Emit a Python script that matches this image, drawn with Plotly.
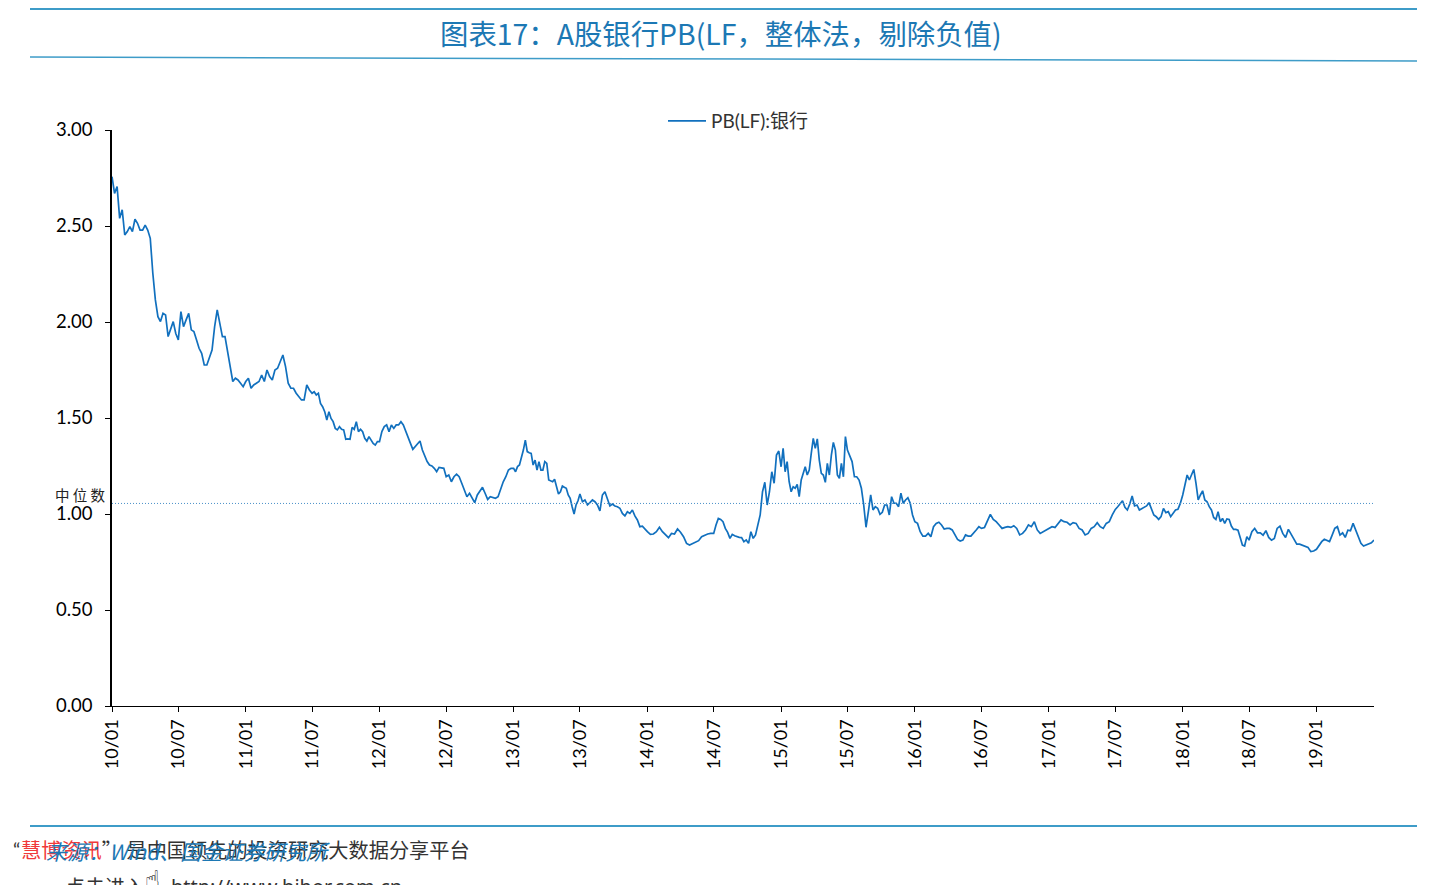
import pandas as pd
import plotly.graph_objects as go

TITLE = "图表17：A股银行PB(LF，整体法，剔除负值)"
SERIES_NAME = "PB(LF):银行"
MEDIAN = 1.055
Y_TICKS = [0.0, 0.5, 1.0, 1.5, 2.0, 2.5, 3.0]

h_starts = ["2010-01-01","2010-07-01","2011-01-01","2011-07-01","2012-01-01","2012-07-01","2013-01-01",
            "2013-07-01","2014-01-01","2014-07-01","2015-01-01","2015-07-01","2016-01-01","2016-07-01",
            "2017-01-01","2017-07-01","2018-01-01","2018-07-01","2019-01-01","2019-06-07"]

v10a = [2.757,2.670,2.705,2.540,2.584,2.453,2.471,2.497,2.471,2.535,2.514,2.479,2.479,2.505,2.479,2.436,2.254,2.115,2.028,2.002,2.045,2.037,1.924,1.959,2.002,1.940]
v10b = [1.907,2.054,1.976,2.011,2.045,1.959,1.950,1.907,1.863,1.837,1.776,1.776,1.811,1.854,1.976,2.063,1.993,1.924,1.924,1.846,1.759,1.690,1.707,1.698,1.681,1.663]
v11a = [1.690,1.707,1.655,1.672,1.681,1.690,1.724,1.690,1.750,1.716,1.698,1.750,1.759,1.794,1.828,1.768,1.681,1.655,1.655,1.629,1.611,1.594,1.594,1.672,1.646]
v11b = [1.629,1.637,1.620,1.629,1.576,1.559,1.533,1.490,1.533,1.498,1.481,1.446,1.438,1.455,1.441,1.438,1.389,1.391,1.389,1.451,1.441,1.481,1.429,1.441,1.429,1.394,1.380,1.403,1.385,1.368,1.359,1.377]
v12a = [1.377,1.429,1.455,1.464,1.429,1.464,1.446,1.464,1.464,1.481,1.464,1.429,1.403,1.368,1.337,1.351,1.368,1.380,1.333,1.299,1.273,1.255,1.250,1.238,1.221,1.243,1.241,1.238]
v12b = [1.194,1.203,1.168,1.194,1.207,1.194,1.160,1.125,1.090,1.108,1.082,1.059,1.099,1.116,1.139,1.108,1.076,1.090,1.087,1.082,1.090,1.134,1.168,1.194,1.229,1.238]
v13a = [1.238,1.220,1.247,1.255,1.290,1.333,1.385,1.325,1.319,1.316,1.255,1.281,1.229,1.273,1.229,1.229,1.273,1.264,1.177,1.172,1.168,1.181,1.134,1.104,1.116,1.146,1.139,1.134,1.099,1.082,1.038,1.000,1.047,1.069]
v13b = [1.104,1.064,1.073,1.047,1.059,1.073,1.064,1.047,1.016,1.099,1.116,1.082,1.042,1.052,1.042,1.038,1.030,1.003,0.990,1.012,1.003,1.021,0.990,0.969,0.934,0.937,0.920]
v14a = [0.908,0.894,0.896,0.908,0.931,0.908,0.891,0.877,0.899,0.896,0.922,0.905,0.882,0.847,0.838,0.847,0.852,0.861,0.882,0.891,0.896,0.899]
v14b = [0.899,0.943,0.977,0.972,0.960,0.925,0.904,0.873,0.894,0.887,0.882,0.878,0.877,0.856,0.865,0.847,0.908,0.873,0.891,0.943,0.995,1.116,1.165,1.047,1.116,1.220,1.160,1.307,1.328]
v15a = [1.246,1.342,1.220,1.273,1.168,1.116,1.142,1.134,1.154,1.090,1.177,1.212,1.246,1.203,1.229,1.316,1.394,1.342,1.391,1.281,1.212,1.203,1.165,1.264,1.203,1.307,1.373,1.333,1.203,1.186,1.264,1.194,1.403]
v15b = [1.333,1.307,1.273,1.194,1.194,1.177,1.134,1.047,0.931,1.012,1.099,1.021,1.038,1.030,0.998,1.009,1.047,1.047,0.995,1.090,1.056,1.056,1.038,1.108,1.056,1.073,1.085,1.056,0.995]
v16a = [0.960,0.951,0.908,0.885,0.885,0.899,0.882,0.934,0.951,0.957,0.943,0.922,0.925,0.925,0.917,0.891,0.868,0.859,0.864,0.891,0.885,0.885,0.899,0.917,0.934]
v16b = [0.925,0.930,0.960,0.998,0.972,0.960,0.943,0.925,0.930,0.934,0.930,0.939,0.925,0.891,0.899,0.917,0.943,0.934,0.960,0.917,0.899,0.908,0.913]
v17a = [0.925,0.934,0.930,0.951,0.969,0.960,0.957,0.943,0.955,0.951,0.925,0.917,0.891,0.899,0.925,0.934,0.955,0.934,0.925,0.951,0.960,0.995]
v17b = [1.024,1.038,1.052,1.069,1.035,1.021,1.052,1.094,1.042,1.047,1.021,1.029,1.038,1.042,1.059,1.029,0.995,0.986,0.972,0.986,1.029,1.007,1.012,0.986,1.003,1.021,1.024,1.055]
v18a = [1.099,1.151,1.203,1.177,1.203,1.232,1.159,1.073,1.099,1.121,1.073,1.064,1.038,1.021,0.982,0.972,1.012,0.960,0.977,0.951,0.974,0.972,0.937,0.920,0.920,0.916,0.878,0.838,0.833,0.882]
v18b = [0.864,0.908,0.925,0.902,0.902,0.890,0.913,0.878,0.864,0.873,0.925,0.937,0.899,0.878,0.920,0.896,0.873,0.843,0.843,0.838,0.833,0.826,0.804,0.807]
v19a = [0.816,0.838,0.856,0.868,0.864,0.856,0.890,0.925,0.934,0.890,0.902,0.878,0.916,0.913,0.951,0.916,0.890,0.847,0.833,0.838,0.843,0.850,0.864]

halves = [v10a,v10b,v11a,v11b,v12a,v12b,v13a,v13b,v14a,v14b,v15a,v15b,v16a,v16b,v17a,v17b,v18a,v18b,v19a]

dates, values = [], []
for i, h in enumerate(halves):
    last = i == len(halves) - 1
    stamps = pd.date_range(h_starts[i], h_starts[i + 1], periods=len(h) + (0 if last else 1))
    dates.extend(list(stamps[:len(h)]))
    values.extend(h)

W, H = 1440, 885
L, R, T, B = 112, 1374, 130, 706
BLUE = "#1170BE"
RULE = "#3E9CC8"
TXT_FONT = "Lato, 'Noto Sans CJK SC', sans-serif"
CJK_FONT = "'Noto Sans CJK SC', sans-serif"

px = lambda x: (x - L) / (R - L)
py = lambda y: (B - y) / (B - T)

fig = go.Figure()
fig.add_trace(go.Scatter(x=dates, y=values, mode="lines", name=SERIES_NAME,
                         line=dict(color=BLUE, width=1.7)))
fig.add_trace(go.Scatter(x=[h_starts[0], h_starts[-1]], y=[MEDIAN, MEDIAN], mode="lines", showlegend=False,
                         line=dict(color="#4A90C8", width=1, dash="1px,2px")))


def rule(x0, y0, x1, y1, w):
    fig.add_shape(type="line", xref="paper", yref="paper", x0=px(x0), x1=px(x1), y0=py(y0), y1=py(y1),
                  line=dict(color=RULE, width=w))


rule(30, 9, 1417, 9, 2)
rule(30, 57, 1417, 61, 1.5)
rule(30, 826, 1417, 826, 2)


def note(x, y, text, size, color="#000000", font=CJK_FONT, anchor="left"):
    fig.add_annotation(xref="paper", yref="paper", x=px(x), y=py(y), text=text, showarrow=False,
                       xanchor=anchor, yanchor="middle", align="left", borderpad=0,
                       font=dict(size=size, color=color, family=font))


note(721, 32, TITLE, 28.4, "#1C78B4", anchor="center")
note(54, 494, "中 位 数", 14.5, "#222222")
note(12, 849, "“", 20, "#333333", TXT_FONT)
note(20, 849, '<span style="color:#F0393A">慧博资讯</span>”\u00a0是中国领先的投资研究大数据分享平台', 20.2, "#333333")
note(45, 851, "<i>来源：Wind、国金证券研究所</i>", 21, "#1C78B4")
note(64, 886, "点击进入", 20, "#333333")
note(144, 879, "☝", 25, "#000000", "DejaVu Sans")
note(170, 886, "http://www.hibor.com.cn", 20, "#333333", "'Noto Sans', sans-serif")

fig.update_layout(
    width=W, height=H, autosize=False, paper_bgcolor="white", plot_bgcolor="white",
    margin=dict(l=L, r=W - R, t=T, b=H - B),
    font=dict(family=TXT_FONT, size=18, color="#000000"),
    showlegend=True,
    legend=dict(x=px(663), y=py(121), xanchor="left", yanchor="middle", orientation="h",
                itemwidth=38, font=dict(size=19, color="#333333"), bgcolor="rgba(0,0,0,0)"),
    xaxis=dict(type="date", range=[h_starts[0], h_starts[-1]], dtick="M6", tick0=h_starts[0], tickformat="%y/%m",
               tickangle=-90, ticks="outside", ticklen=5, tickcolor="#000000", tickwidth=1, showgrid=False,
               showline=True, linecolor="#000000", linewidth=1.2, zeroline=False, tickfont=dict(size=18)),
    yaxis=dict(range=[0, 3], tickvals=Y_TICKS, tickformat=".2f", ticks="outside", ticklen=5, tickcolor="#000000",
               tickwidth=1, showgrid=False, showline=True, linecolor="#000000", linewidth=1.5, zeroline=False,
               tickfont=dict(size=18.5), ticklabelstandoff=9),
)

fig.write_html("out.html", config={"displayModeBar": False},
               post_script="document.body.style.margin='0';document.body.style.overflow='hidden';")
